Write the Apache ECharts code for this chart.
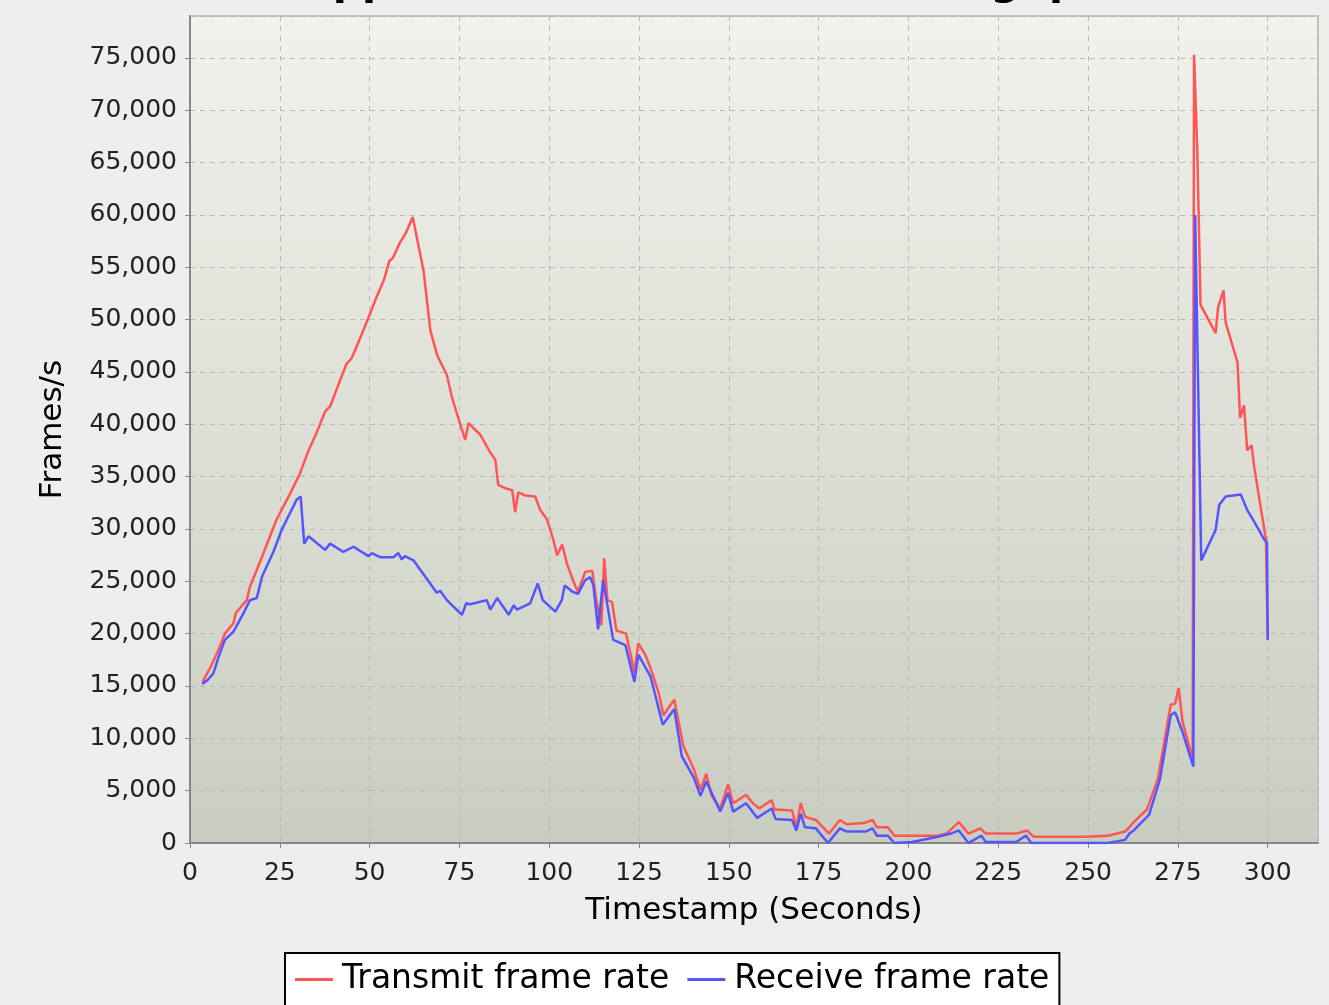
<!DOCTYPE html>
<html>
<head>
<meta charset="utf-8">
<script src="https://cdn.jsdelivr.net/npm/echarts@6/dist/echarts.min.js"></script>
<style>
html,body{margin:0;padding:0;background:#eeeeee;}
#chart{width:1329px;height:1005px;}
</style>
</head>
<body>
<div id="chart"></div>
<script>
const titleText = "Application Frame Rate Throughput";
const xAxisName = "Timestamp (Seconds)";
const yAxisName = "Frames/s";
const seriesNames = ["Transmit frame rate", "Receive frame rate"];

const transmitT = [3.5,6,8,9.7,12.1,12.8,15.8,16.7,20,24.1,27.9,30.6,33,35,37.6,39,41,43.6,45,48.3,52,54,55.5,56.5,58.5,60,62,65,66.9,68.8,71.5,72.9,74.5,76.6,77.5,80.8,83.6,85,85.8,87.7,89.7,90.5,91.4,93.3,96.1,97.5,99.4,101.1,102.2,103.6,105,107.2,108,110,112,113.1,114.5,115.3,116.2,117.5,118.7,121.4,123.7,124.8,126.7,128.2,129,130.5,131.8,134.8,137.3,140.3,142.1,143.7,145.2,147.6,149.8,151.2,154.8,156.7,158.5,161.9,162.7,167.6,168.8,170,171.2,174.2,177.9,180.9,182.7,187.6,190,191.2,194.2,196.1,208.2,210.6,214,216.7,220,221.5,230,233,234.8,249.4,255.5,260.3,261.5,262.7,266.4,269.4,273,274.2,275.2,276.3,279.1,279.5,280.4,281.3,285.5,286.2,287.7,288.3,291.6,292.3,293.4,294.3,295.5,296.2,299.5,300];
const transmitV = [15400,17000,18500,20000,21000,22000,23200,24500,27300,30900,33400,35300,37500,39000,41200,41700,43500,45800,46300,49000,52200,53800,55600,55900,57400,58200,59800,54700,49000,46600,44700,42600,40800,38500,40100,39000,37300,36600,34200,33900,33700,31600,33500,33200,33100,31800,30900,29000,27500,28500,26600,24600,24000,25900,26000,23200,20800,27200,23200,23000,20300,20000,16300,19100,18000,16700,15900,14300,12200,13700,9300,7000,5100,6600,4500,3300,5600,3800,4600,3800,3300,4100,3200,3100,1500,3800,2500,2200,900,2200,1800,1900,2200,1500,1500,700,700,900,2000,900,1400,900,900,1200,600,600,700,1100,1500,2000,3200,6100,13200,13300,14800,11600,8000,75300,66200,51400,48700,51200,52800,49700,45900,40600,41800,37500,38000,36000,29000,19600];

const receiveT = [3.4,5,6.5,8,9.7,12.1,14.5,16.7,18.6,20,23.2,25.5,29.7,30.8,31.8,33,37.6,39,42.7,45.5,49.7,50.6,52.9,56.6,58,58.9,59.8,62.2,64.1,68.7,69.6,71.5,75.7,76.9,78,82.6,83.6,85.5,88.7,90.1,91,94.7,96.8,98.2,101.7,103.5,104.3,106.5,108,110,111.4,112.3,113.6,115,116.2,117.8,121.2,123.7,124.8,128.2,131.6,134.8,136.9,140.3,142.1,143.7,147.6,149.8,151.2,154.8,157.9,161.9,163,167.6,168.8,170,171.2,174.2,177.6,180.9,182.7,188.2,190,191.2,194.2,196.1,201,208.2,211.8,214,216.7,220.3,221.5,230,232.7,234.2,255.5,260.3,261.5,262.7,267,270,273,274.2,276.3,279.3,279.8,281.5,285.5,286.5,288.3,292.5,294.3,295.7,299,299.8,300];
const receiveV = [15200,15600,16200,17800,19400,20200,21700,23200,23400,25400,27800,29900,32800,33100,28600,29300,28000,28600,27800,28300,27400,27700,27300,27300,27700,27100,27400,27000,26100,23900,24100,23200,21800,22900,22800,23200,22300,23400,21800,22700,22300,22900,24800,23200,22100,23200,24600,24000,23800,25100,25400,24600,20400,25100,22700,19400,18900,15400,18000,15900,11300,12800,8300,6200,4500,5900,3000,4800,3000,3800,2400,3300,2300,2200,1200,2800,1500,1400,0,1400,1100,1100,1400,700,700,0,100,600,900,1200,0,700,100,100,700,0,0,300,900,1200,2700,6100,12200,12500,10600,7300,60000,27000,29900,32300,33100,33300,31800,31000,29000,28700,19400];

const transmitData = transmitT.map((t, i) => [t, transmitV[i]]);
const receiveData = receiveT.map((t, i) => [t, receiveV[i]]);

const chart = echarts.init(document.getElementById('chart'), null, {renderer: 'canvas'});
const fmt = v => String(v).replace(/\B(?=(\d{3})+(?!\d))/g, ',');

chart.setOption({
  backgroundColor: '#eeeeee',
  animation: false,
  title: {
    text: titleText,
    left: 301,
    top: -37,
    padding: 0,
    textStyle: {fontFamily: 'DejaVu Sans', fontWeight: 'bold', fontSize: 41, color: '#000'}
  },
  grid: {
    left: 190, right: 11, top: 16, bottom: 162,
    show: true,
    backgroundColor: new echarts.graphic.LinearGradient(0, 0, 0, 1, [
      {offset: 0, color: '#f2f2ed'},
      {offset: 1, color: '#c9cdc0'}
    ]),
    borderColor: '#c4c4c4',
    borderWidth: 2
  },
  legend: {
    data: seriesNames,
    left: 285,
    top: 953,
    icon: 'rect',
    itemWidth: 38,
    itemHeight: 3,
    itemGap: 18,
    padding: [10, 10, 30, 10],
    backgroundColor: '#ffffff',
    borderColor: '#000000',
    borderWidth: 2,
    borderRadius: 0,
    textStyle: {fontFamily: 'DejaVu Sans', fontSize: 33, color: '#000', padding: [0, 0, 0, 4]}
  },
  xAxis: {
    type: 'value',
    min: 0, max: 314, interval: 25,
    name: xAxisName,
    nameLocation: 'middle',
    nameGap: 52,
    nameTextStyle: {fontFamily: 'DejaVu Sans', fontSize: 31, color: '#000'},
    axisLine: {show: true, onZero: false, lineStyle: {color: '#888888', width: 2}},
    axisTick: {show: true, length: 5, lineStyle: {color: '#888888', width: 1}},
    axisLabel: {showMaxLabel: false, margin: 18, fontFamily: 'DejaVu Sans', fontSize: 25, color: '#222'},
    splitLine: {show: true, lineStyle: {color: '#b8b8b8', width: 1, type: [5, 5]}}
  },
  yAxis: {
    type: 'value',
    min: 0, max: 79000, interval: 5000,
    name: yAxisName,
    nameLocation: 'middle',
    nameGap: 122,
    nameRotate: 90,
    nameTextStyle: {fontFamily: 'DejaVu Sans', fontSize: 31, color: '#000'},
    axisLine: {show: true, lineStyle: {color: '#888888', width: 2}},
    axisTick: {show: true, length: 5, lineStyle: {color: '#888888', width: 1}},
    axisLabel: {showMaxLabel: false, margin: 13, fontFamily: 'DejaVu Sans', fontSize: 25, color: '#222', formatter: fmt},
    splitLine: {show: true, lineStyle: {color: '#b8b8b8', width: 1, type: [5, 5]}}
  },
  series: [
    {
      name: seriesNames[0], type: 'line', data: transmitData,
      showSymbol: false, symbol: 'none',
      lineStyle: {color: '#ff5555', width: 2.5},
      itemStyle: {color: '#ff5555'}
    },
    {
      name: seriesNames[1], type: 'line', data: receiveData,
      showSymbol: false, symbol: 'none',
      lineStyle: {color: '#5555ff', width: 2.5},
      itemStyle: {color: '#5555ff'}
    }
  ]
});
</script>
</body>
</html>
